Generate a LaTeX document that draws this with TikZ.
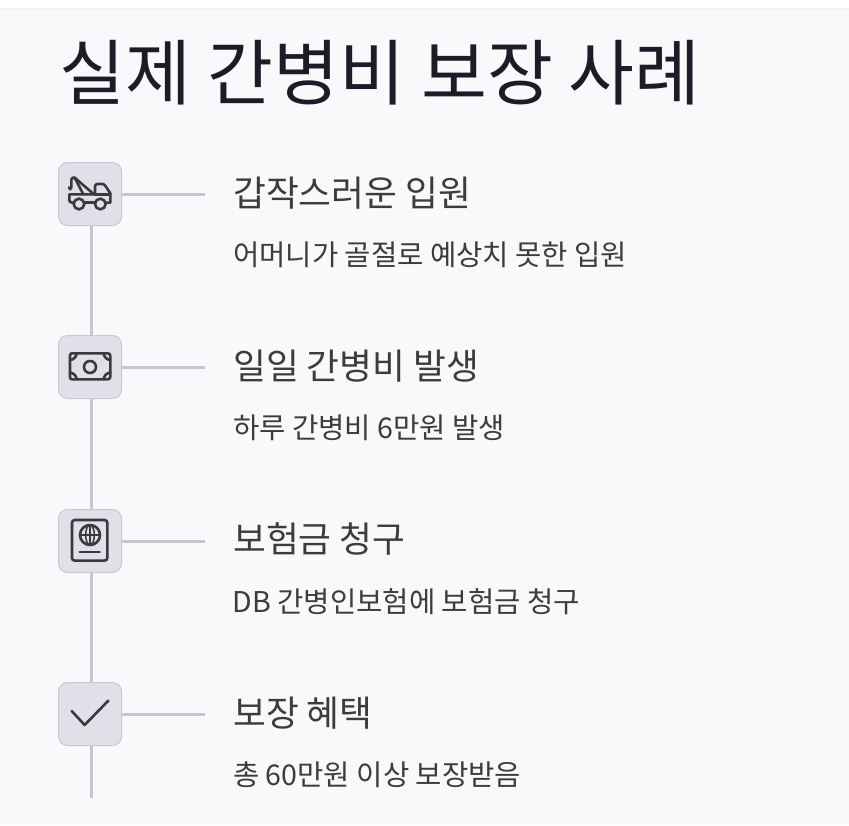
\documentclass[tikz,border=0pt]{standalone}
\usepackage{fontspec}
\setmainfont{Noto Sans CJK KR}
\definecolor{bgc}{HTML}{F9F9FB}
\definecolor{boxf}{HTML}{E0E0E8}
\definecolor{boxl}{HTML}{C8C8D2}
\definecolor{linec}{HTML}{C6C6D0}
\definecolor{ink}{HTML}{1C1C28}
\definecolor{body}{HTML}{3C3C3E}
\definecolor{icon}{HTML}{3A3A3C}
\definecolor{topl}{HTML}{F2F2F3}
\tikzset{
 iconbox/.style={draw=boxl,fill=boxf,line width=1pt,rounded corners=9pt,minimum width=63pt,minimum height=63pt,inner sep=0pt,outer sep=0pt},
 conn/.style={draw=linec,line width=3pt},
 titletext/.style={anchor=base west,inner sep=0pt,text=ink,font=\fontsize{71.6}{80}\selectfont},
 headtext/.style={anchor=base west,inner sep=0pt,text=body,font=\fontsize{35.7}{42}\selectfont},
 subtext/.style={anchor=base west,inner sep=0pt,text=body,font=\fontsize{28.6}{34}\selectfont},
 ic/.style={draw=icon,line width=2.6pt,line cap=round,line join=round},
 zoomA/.style={shift={(40,150)},x=0.3333pt,y=-0.3333pt},
 zoomB/.style={shift={(40,490)},x=0.3333pt,y=-0.3333pt},
}
\begin{document}
\begin{tikzpicture}[x=1pt,y=-1pt]
\useasboundingbox (0,0) rectangle (849,825);
\fill[white] (0,0) rectangle (849,825);
\fill[bgc] (0,8) rectangle (849,825);
\fill[topl] (0,8) rectangle (849,9.5);
\node[titletext] (title) at (59.5,99) {실제 간병비 보장 사례};
\node[iconbox] (b1) at (90,194) {};
\node[iconbox] (b2) at (90,367) {};
\node[iconbox] (b3) at (90,541) {};
\node[iconbox] (b4) at (90,714) {};
\coordinate (e1) at (205,194);
\coordinate (e2) at (205,367);
\coordinate (e3) at (205,541);
\coordinate (e4) at (205,714);
\coordinate (endv) at (91.5,798);
\draw[conn] (b1.east) -- (e1);
\draw[conn] (b2.east) -- (e2);
\draw[conn] (b3.east) -- (e3);
\draw[conn] (b4.east) -- (e4);
\draw[conn] ([xshift=1.5pt]b1.south) -- ([xshift=1.5pt]b2.north);
\draw[conn] ([xshift=1.5pt]b2.south) -- ([xshift=1.5pt]b3.north);
\draw[conn] ([xshift=1.5pt]b3.south) -- ([xshift=1.5pt]b4.north);
\draw[conn] ([xshift=1.5pt]b4.south) -- (endv);
\node[headtext] (h1) at (233,206) {갑작스러운 입원};
\node[subtext] (s1) at (233,265) {어머니가 골절로 예상치 못한 입원};
\node[headtext] (h2) at (233,379) {일일 간병비 발생};
\node[subtext] (s2) at (233,438) {하루 간병비 6만원 발생};
\node[headtext] (h3) at (233,552.5) {보험금 청구};
\node[subtext] (s3) at (232.5,612) {DB 간병인보험에 보험금 청구};
\node[headtext] (h4) at (233,726) {보장 혜택};
\node[subtext] (s4) at (233,785) {총 60만원 이상 보장받음};
% truck
\begin{scope}[zoomA]
\draw[ic] (101,158) -- (97,158) .. controls (91,158) and (88,155) .. (88,150) -- (88,133) -- (165,133) -- (165,110) .. controls (165,104) and (168,102) .. (172,102) -- (188,102) .. controls (192,102) and (194,105) .. (197,109) -- (211,130) -- (211,158) -- (197,158);
\draw[ic] (133,158) -- (165,158);
\draw[ic] (165,133) -- (211,133);
\draw[ic] (117,162) circle (16);
\draw[ic] (181,162) circle (16);
\draw[ic] (104,83) -- (162,133);
\draw[ic] (104,83) -- (130,133);
\draw[ic] (104,83) .. controls (98,81) and (94,84) .. (94,90) -- (94,112) .. controls (94,120) and (87,120) .. (87,112);
\end{scope}
% banknote
\begin{scope}[zoomA]
\draw[ic] (96,610) -- (203,610) .. controls (208,610) and (211,613) .. (211,618) -- (211,680) .. controls (211,685) and (208,688) .. (203,688) -- (96,688) .. controls (91,688) and (90,685) .. (90,680) -- (90,618) .. controls (90,613) and (91,610) .. (96,610) -- cycle;
\draw[ic] (150,651) circle (18);
\draw[ic] (110,610) .. controls (110,620) and (100,630) .. (90,630);
\draw[ic] (191,610) .. controls (191,620) and (201,630) .. (211,630);
\draw[ic] (110,688) .. controls (110,678) and (100,668) .. (90,668);
\draw[ic] (191,688) .. controls (191,678) and (201,668) .. (211,668);
\end{scope}
% passport
\begin{scope}[zoomB]
\draw[ic] (105,90) -- (193,90) .. controls (199,90) and (202,93) .. (202,99) -- (202,203) .. controls (202,209) and (199,212) .. (193,212) -- (105,212) .. controls (99,212) and (96,209) .. (96,203) -- (96,99) .. controls (96,93) and (99,90) .. (105,90) -- cycle;
\draw[ic] (150,135) circle (30);
\draw[ic,line width=1.5pt] (150,135) ellipse (13 and 30);
\draw[ic,line width=1.5pt] (120,135) -- (180,135);
\draw[ic,line width=1.5pt] (150,105) -- (150,165);
\draw[ic] (119,186) -- (179,186);
\end{scope}
% check
\begin{scope}[zoomB]
\draw[ic] (95,663) -- (134,705) -- (205,632);
\end{scope}
\end{tikzpicture}
\end{document}
